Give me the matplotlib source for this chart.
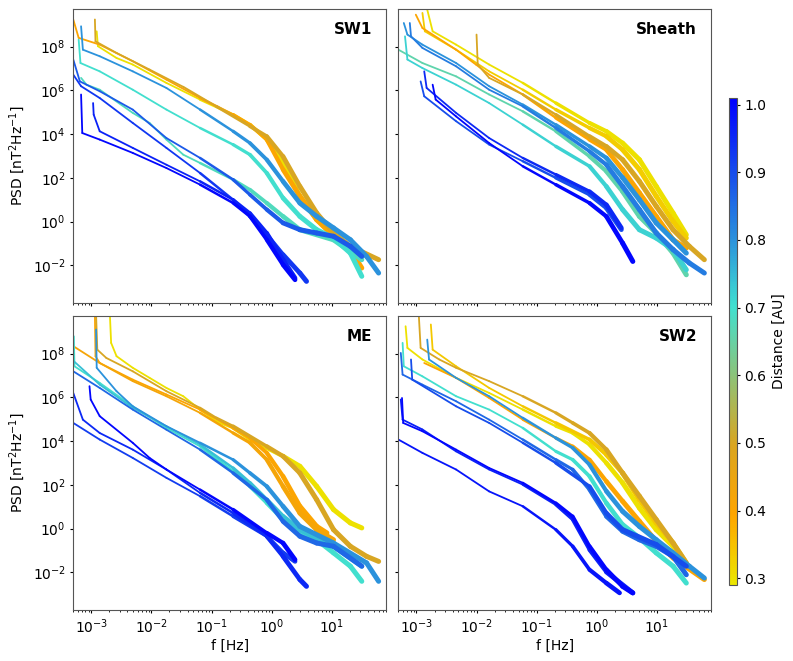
import numpy as np
import matplotlib
matplotlib.use('Agg')
import matplotlib.pyplot as plt
import matplotlib.colors as mcolors
import matplotlib.cm as cm
from matplotlib.collections import LineCollection

# values: distance [AU], log10 f [Hz], log10 PSD [nT^2 Hz^-1]

# --- SW1 ---
sw1_dist = [0.30, 0.40, 0.50, 0.68, 0.70, 0.80, 0.88, 0.93, 0.96, 1.00]
sw1_logf = [
    [-2.91, -2.89, -2.58, -2.31, -1.75, -1.19, -0.64, -0.36, -0.08, 0.19, 0.47, 0.75, 0.97],
    [-3.30, -3.21, -2.86, -2.31, -1.75, -1.19, -0.64, -0.36, -0.08, 0.19, 0.47, 0.75, 1.03, 1.31, 1.50],
    [-2.94, -2.93, -2.58, -2.03, -1.47, -0.92, -0.36, -0.08, 0.19, 0.47, 0.75, 1.03, 1.31, 1.78],
    [-3.17, -3.08, -2.86, -2.31, -2.03, -1.75, -1.47, -1.19, -0.64, -0.36, -0.08, 0.19, 0.47, 1.03, 1.50],
    [-3.21, -3.18, -2.86, -2.31, -1.75, -1.19, -0.64, -0.36, -0.08, 0.19, 0.47, 0.75, 1.03, 1.31, 1.50],
    [-3.17, -3.14, -2.86, -2.31, -1.75, -1.19, -0.64, -0.36, -0.08, 0.19, 0.47, 0.75, 1.03, 1.31, 1.58, 1.78],
    [-3.30, -3.19, -2.86, -2.31, -1.75, -1.19, -0.64, -0.36, -0.08, 0.19, 0.47, 0.75, 1.03, 1.31, 1.50],
    [-3.30, -3.17, -2.86, -2.31, -1.75, -1.19, -0.64, -0.36, -0.08, 0.19, 0.47, 0.58],
    [-2.97, -2.96, -2.86, -2.31, -1.75, -1.19, -0.64, -0.36, -0.08, 0.19, 0.39],
    [-3.17, -3.15, -2.86, -2.31, -1.75, -1.19, -0.64, -0.36, -0.08, 0.19, 0.39],
]
sw1_logp = [
    [8.70, 8.02, 7.48, 7.18, 6.34, 5.58, 4.89, 4.43, 3.75, 2.68, 1.16, 0.09, -0.45],
    [9.24, 8.40, 8.09, 7.33, 6.49, 5.65, 4.89, 4.43, 3.75, 2.38, 1.16, 0.09, -0.67, -1.28, -2.12],
    [9.24, 8.24, 7.71, 6.95, 6.16, 5.27, 4.36, 3.90, 2.98, 1.61, 0.39, -0.52, -1.13, -1.74],
    [6.57, 6.26, 6.03, 4.97, 4.51, 3.75, 3.06, 2.68, 1.92, 1.46, 0.85, 0.24, -0.37, -0.83, -1.74],
    [8.32, 7.25, 6.87, 6.03, 5.12, 4.28, 3.52, 3.06, 2.22, 1.08, 0.24, -0.37, -0.75, -1.44, -2.50],
    [8.93, 7.86, 7.56, 6.87, 6.11, 5.12, 4.13, 3.59, 2.83, 1.84, 0.85, 0.24, -0.29, -0.83, -1.59, -2.35],
    [7.41, 6.41, 5.96, 5.12, 3.82, 2.91, 1.92, 1.23, 0.55, -0.06, -0.37, -0.52, -0.67, -1.13, -1.59],
    [6.72, 6.19, 5.65, 4.51, 3.37, 2.22, 1.00, 0.24, -0.60, -1.51, -2.35, -2.73],
    [5.42, 4.89, 4.13, 3.37, 2.60, 1.84, 1.00, 0.39, -0.52, -1.74, -2.58],
    [5.81, 4.05, 3.75, 3.14, 2.45, 1.69, 0.85, 0.24, -0.83, -1.97, -2.66],
]

# --- Sheath ---
sh_dist = [0.30, 0.33, 0.40, 0.50, 0.66, 0.72, 0.80, 0.83, 0.90, 0.95, 1.00]
sh_logf = [
    [-2.82, -2.73, -2.34, -1.79, -1.23, -0.68, -0.12, 0.16, 0.43, 0.71, 0.99, 1.27, 1.49],
    [-2.90, -2.86, -2.34, -1.79, -1.23, -0.68, -0.12, 0.16, 0.43, 0.71, 0.99, 1.27, 1.49],
    [-3.01, -2.90, -2.34, -2.01, -1.79, -1.23, -0.68, -0.12, 0.16, 0.43, 0.71, 0.99, 1.27, 1.49],
    [-2.00, -1.98, -1.79, -1.23, -0.68, -0.12, 0.16, 0.43, 0.71, 0.99, 1.27, 1.54, 1.79],
    [-3.30, -2.90, -2.34, -1.79, -1.23, -0.68, -0.12, 0.16, 0.43, 0.71, 0.99, 1.27, 1.49],
    [-3.19, -3.15, -2.90, -2.34, -1.79, -1.23, -0.68, -0.12, 0.16, 0.43, 0.71, 0.99, 1.27, 1.49],
    [-3.21, -3.15, -2.90, -2.34, -1.79, -1.23, -0.68, -0.12, 0.16, 0.43, 0.71, 0.99, 1.27, 1.49],
    [-3.11, -3.09, -2.90, -2.34, -1.79, -1.23, -0.68, -0.12, 0.16, 0.43, 0.71, 0.99, 1.27, 1.54, 1.79],
    [-2.93, -2.87, -2.34, -1.79, -1.23, -0.68, -0.12, 0.16, 0.41],
    [-2.87, -2.83, -2.34, -1.79, -1.23, -0.68, -0.12, 0.16, 0.41],
    [-2.73, -2.68, -2.34, -1.79, -1.23, -0.68, -0.12, 0.16, 0.43, 0.60],
]
sh_logp = [
    [9.69, 8.70, 8.09, 7.18, 6.34, 5.42, 4.51, 4.13, 3.59, 2.83, 1.61, 0.39, -0.60],
    [9.54, 8.70, 7.86, 6.87, 6.03, 5.12, 4.28, 3.90, 3.29, 2.38, 1.16, 0.01, -0.75],
    [9.46, 8.85, 7.86, 7.18, 6.72, 5.81, 4.74, 3.75, 3.29, 2.38, 1.31, 0.24, -0.83, -1.21],
    [8.55, 7.18, 6.57, 5.81, 4.89, 3.90, 3.44, 2.83, 1.84, 0.70, -0.37, -1.13, -1.74],
    [7.86, 7.25, 6.64, 5.81, 5.04, 4.13, 2.98, 2.30, 1.38, 0.24, -0.52, -1.44, -2.43],
    [8.47, 7.41, 7.02, 6.26, 5.42, 4.43, 3.44, 2.53, 1.61, 0.55, -0.37, -0.75, -1.28, -2.20],
    [9.08, 8.55, 8.09, 7.25, 6.19, 5.35, 4.43, 3.44, 2.91, 2.01, 1.00, -0.06, -0.83, -1.44],
    [9.08, 8.47, 7.94, 7.10, 6.03, 5.27, 4.28, 3.21, 2.60, 1.61, 0.55, -0.52, -1.28, -1.89, -2.35],
    [6.41, 5.73, 4.59, 3.52, 2.76, 2.00, 1.23, 0.62, -0.37],
    [6.87, 6.11, 4.97, 3.82, 2.91, 2.15, 1.38, 0.77, -0.29],
    [6.26, 5.58, 4.81, 3.59, 2.53, 1.69, 0.85, 0.24, -0.98, -1.82],
]

# --- ME ---
me_dist = [0.30, 0.40, 0.42, 0.50, 0.70, 0.74, 0.80, 0.86, 0.92, 0.95, 1.00]
me_logf = [
    [-2.69, -2.67, -2.58, -2.31, -2.03, -1.75, -1.47, -1.19, -0.92, -0.64, -0.36, -0.08, 0.19, 0.47, 0.75, 1.03, 1.31, 1.50],
    [-2.94, -2.93, -2.86, -2.31, -1.75, -1.19, -0.64, -0.36, -0.08, 0.19, 0.47, 0.75, 0.92],
    [-3.30, -2.86, -2.31, -1.75, -1.19, -0.64, -0.36, -0.08, 0.19, 0.47, 0.75, 1.03],
    [-2.92, -2.90, -2.75, -2.31, -1.75, -1.19, -0.92, -0.64, -0.08, 0.19, 0.47, 0.75, 1.03, 1.31, 1.58, 1.78],
    [-3.29, -3.28, -2.86, -2.31, -1.75, -1.19, -0.64, -0.36, -0.08, 0.19, 0.47, 0.75, 1.03, 1.31, 1.50],
    [-3.29, -2.86, -2.31, -1.75, -1.19, -0.64, -0.36, -0.08, 0.19, 0.47, 1.03, 1.50],
    [-2.92, -2.91, -2.58, -2.31, -1.75, -1.19, -0.64, -0.36, -0.08, 0.19, 0.47, 1.03, 1.58, 1.78],
    [-3.30, -2.86, -2.31, -1.75, -1.19, -0.64, -0.08, 0.19, 0.47, 0.75, 1.03, 1.50],
    [-3.30, -2.86, -2.31, -1.75, -1.19, -0.64, -0.08, 0.19, 0.39],
    [-3.30, -3.14, -2.86, -2.31, -1.75, -1.19, -0.64, -0.08, 0.19, 0.47, 0.58],
    [-3.03, -3.01, -2.86, -2.31, -2.03, -1.75, -1.19, -0.64, -0.08, 0.19, 0.39],
]
me_logp = [
    [9.74, 8.49, 7.88, 7.35, 6.89, 6.43, 6.05, 5.44, 4.91, 4.60, 4.07, 3.69, 3.31, 2.85, 1.93, 0.87, 0.26, 0.03],
    [9.74, 7.88, 7.57, 6.81, 6.13, 5.44, 4.60, 4.14, 3.46, 2.39, 1.02, 0.10, -0.20],
    [8.34, 7.57, 6.74, 6.05, 5.29, 4.37, 3.92, 3.15, 1.93, 0.71, -0.05, -0.51],
    [9.74, 8.18, 7.80, 7.19, 6.28, 5.52, 5.06, 4.68, 3.76, 3.31, 2.54, 1.32, -0.05, -0.81, -1.27, -1.50],
    [8.79, 7.42, 6.66, 5.59, 4.60, 3.76, 2.62, 1.93, 1.17, 0.41, -0.12, -0.51, -1.11, -1.72, -2.41],
    [7.65, 6.58, 5.52, 4.68, 3.84, 2.77, 2.09, 1.32, 0.56, -0.05, -0.81, -1.72],
    [9.10, 7.35, 6.28, 5.59, 4.68, 3.92, 3.15, 2.54, 1.93, 1.02, 0.10, -0.66, -1.57, -2.41],
    [7.19, 6.43, 5.44, 4.52, 3.61, 2.54, 1.32, 0.33, -0.35, -0.66, -0.81, -1.72],
    [4.83, 4.07, 3.23, 2.32, 1.48, 0.56, -0.35, -1.11, -1.50],
    [6.20, 4.98, 4.37, 3.61, 2.70, 1.63, 0.71, -0.35, -1.27, -2.33, -2.64],
    [6.51, 5.90, 5.14, 3.92, 3.23, 2.70, 1.78, 0.87, -0.20, -0.66, -1.42],
]

# --- SW2 ---
sw2_dist = [0.30, 0.34, 0.40, 0.50, 0.70, 0.80, 0.86, 0.90, 0.96, 0.98, 1.00]
sw2_logf = [
    [-3.18, -3.15, -2.90, -2.34, -1.79, -1.23, -0.68, -0.40, -0.12, 0.16, 0.43, 0.71, 0.99, 1.27, 1.49],
    [-2.76, -2.73, -2.34, -1.79, -1.23, -0.68, -0.12, 0.16, 0.43, 0.71, 0.99, 1.27, 1.49],
    [-2.87, -2.34, -1.79, -1.23, -0.68, -0.40, -0.12, 0.16, 0.43, 0.71, 0.99, 1.27, 1.79],
    [-2.96, -2.93, -2.62, -2.34, -1.79, -1.23, -0.68, -0.40, -0.12, 0.16, 0.43, 0.71, 0.99, 1.27, 1.49],
    [-3.23, -3.21, -2.90, -2.34, -1.79, -1.23, -0.68, -0.40, -0.12, 0.16, 0.43, 0.71, 0.99, 1.27, 1.49],
    [-2.82, -2.79, -2.34, -1.79, -1.23, -0.68, -0.40, -0.12, 0.16, 0.43, 0.71, 0.99, 1.27, 1.54, 1.79],
    [-3.26, -3.23, -2.90, -2.34, -1.79, -1.23, -0.68, -0.40, -0.12, 0.16, 0.43, 0.71, 0.99, 1.27, 1.49],
    [-3.09, -3.07, -2.34, -1.79, -1.23, -0.68, -0.12, 0.16, 0.43, 0.99, 1.49],
    [-3.26, -3.23, -2.90, -2.34, -1.79, -1.23, -0.68, -0.40, -0.12, 0.16, 0.60],
    [-3.30, -2.90, -2.34, -1.79, -1.23, -0.68, -0.40, -0.12, 0.16, 0.38],
    [-3.24, -3.22, -2.90, -2.34, -1.79, -1.23, -0.68, -0.40, -0.12, 0.16, 0.43, 0.60],
]
sw2_logp = [
    [9.25, 8.26, 7.73, 6.89, 6.20, 5.44, 4.68, 4.37, 3.84, 3.00, 2.09, 0.94, -0.05, -0.81, -1.72],
    [9.33, 8.18, 7.42, 6.43, 5.59, 4.83, 4.07, 3.38, 2.54, 1.32, 0.26, -0.66, -1.57],
    [7.57, 6.89, 5.97, 4.98, 4.14, 3.76, 3.15, 2.16, 1.25, 0.33, -0.58, -1.34, -2.33],
    [9.74, 8.26, 7.73, 7.35, 6.74, 6.05, 5.29, 4.83, 4.37, 3.61, 2.54, 1.48, 0.41, -0.66, -1.57],
    [8.49, 7.42, 6.96, 6.05, 5.44, 4.60, 3.53, 3.15, 2.39, 1.17, 0.18, -0.43, -1.11, -1.72, -2.49],
    [8.64, 7.73, 6.89, 6.05, 5.06, 4.14, 3.69, 2.92, 1.71, 0.79, 0.10, -0.51, -1.11, -1.72, -2.26],
    [8.03, 7.04, 6.58, 5.82, 4.98, 4.07, 3.15, 2.70, 1.78, 0.56, -0.12, -0.51, -0.81, -1.27, -2.11],
    [7.73, 6.81, 5.59, 4.83, 3.92, 3.00, 1.93, 0.71, -0.05, -0.73, -1.72],
    [5.90, 4.98, 4.53, 3.53, 2.70, 2.01, 1.09, 0.41, -0.97, -1.98, -2.94],
    [4.07, 3.46, 2.70, 1.70, 1.02, -0.05, -0.81, -1.88, -2.49, -2.94],
    [5.97, 4.83, 4.45, 3.61, 2.77, 2.09, 1.17, 0.56, -0.81, -1.88, -2.64, -2.94],
]

panels = [
    ('SW1', sw1_dist, sw1_logf, sw1_logp, [0.092, 0.5416, 0.395, 0.4448]),
    ('Sheath', sh_dist, sh_logf, sh_logp, [0.502, 0.5416, 0.395, 0.4448]),
    ('ME', me_dist, me_logf, me_logp, [0.092, 0.0772, 0.395, 0.4448]),
    ('SW2', sw2_dist, sw2_logf, sw2_logp, [0.502, 0.0772, 0.395, 0.4448]),
]

cmap = mcolors.LinearSegmentedColormap.from_list('dist', [
    (0.0, '#ebe600'), (1 / 7, '#ffa500'), (2 / 7, '#daa520'),
    (4 / 7, '#40e0d0'), (5 / 7, '#2a8fdc'), (1.0, '#0000ff')])
norm = mcolors.Normalize(0.29, 1.01)

fig = plt.figure(figsize=(7.93, 6.61), dpi=100)

first = None
for i, (name, dist, logf, logp, pos) in enumerate(panels):
    if first is None:
        ax = fig.add_axes(pos)
        first = ax
    else:
        ax = fig.add_axes(pos, sharex=first, sharey=first)
    ax.set_xscale('log')
    ax.set_yscale('log')
    for d, lf, lp in zip(dist, logf, logp):
        lf = np.array(lf)
        pts = np.column_stack([10 ** lf, 10 ** np.array(lp)])
        segs = np.stack([pts[:-1], pts[1:]], axis=1)
        # spectra get visibly thicker (noisier) towards high frequency
        mid = 0.5 * (lf[:-1] + lf[1:])
        widths = np.clip(1.3 + 1.3 * (mid + 1.3), 1.3, 3.6)
        lc = LineCollection(segs, colors=[cmap(norm(d))], linewidths=widths,
                            capstyle='round', joinstyle='round')
        ax.add_collection(lc)
    ax.text(0.955, 0.93, name, transform=ax.transAxes, ha='right', va='center',
            fontsize=11, fontweight='bold')
    for s in ax.spines.values():
        s.set_color('#555555')
    ax.tick_params(which='major', length=2.2, pad=3)
    ax.tick_params(which='minor', length=1.3)
    if i % 2 == 0:
        ax.set_ylabel('PSD [nT$^2$Hz$^{-1}$]', fontsize=10)
    else:
        ax.tick_params(labelleft=False)
    if i >= 2:
        ax.set_xlabel('f [Hz]', fontsize=10, labelpad=2)
    else:
        ax.tick_params(labelbottom=False)

first.set_xlim(10 ** -3.305, 10 ** 1.906)
first.set_ylim(10 ** -3.72, 10 ** 9.72)

cax = fig.add_axes([0.919, 0.115, 0.0101, 0.737])
sm = cm.ScalarMappable(norm=norm, cmap=cmap)
cb = fig.colorbar(sm, cax=cax, ticks=[0.3, 0.4, 0.5, 0.6, 0.7, 0.8, 0.9, 1.0])
cb.outline.set_edgecolor('#555555')
cax.tick_params(length=2.2, pad=3)
cb.set_label('Distance [AU]', fontsize=10)

fig.savefig('out.png', dpi=100)
